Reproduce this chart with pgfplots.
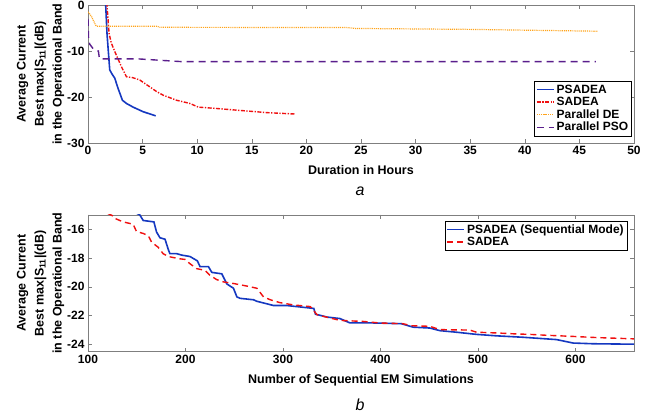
\documentclass[border=0pt]{standalone}
\usepackage{pgfplots}
\pgfplotsset{compat=1.18}
\usepackage{fontspec}
\setmainfont{Liberation Sans}
\definecolor{psblue}{HTML}{1538C0}
\definecolor{sared}{HTML}{F01010}
\definecolor{deorange}{HTML}{FFA41C}
\definecolor{psopurple}{HTML}{5A1E8C}
\definecolor{axgrey}{HTML}{7F7F7F}

\pgfplotsset{
  matlab/.style={
    scale only axis,
    width=546pt,
    axis line style={axgrey},
    tick style={axgrey, line width=0.6pt},
    tick align=inside,
    major tick length=4pt,
    /pgf/number format/assume math mode=true,
    tick label style={font=\fontsize{12}{14}\selectfont\bfseries, black},
    label style={font=\fontsize{12.5}{18}\selectfont\bfseries},
    ylabel style={align=center, yshift=-4pt},
    xlabel style={yshift=-4pt},
    legend style={font=\fontsize{12}{15}\selectfont\bfseries,
      inner sep=1.5pt, row sep=-1.5pt},
    legend cell align=left,
  },
}

\begin{document}
\begin{tikzpicture}[x=1pt,y=1pt]
\path[use as bounding box] (0,0) rectangle (657,-416);

\begin{axis}[matlab,
  at={(88pt,-5pt)}, anchor=north west,
  height=138pt,
  xmin=0, xmax=50, ymin=-30, ymax=0,
  xtick={0,5,...,50}, ytick={-30,-20,-10,0},
  xlabel={Duration in Hours},
  ylabel={Average Current\\Best max|S\textsubscript{11}|(dB)\\in the Operational Band},
  legend style={at={(0.996,0.05)}, anchor=south east},
]
\addplot[draw=psblue, line width=1.6pt] coordinates {
 (1.60,0.5) (1.62,0) (1.74,-6.2) (1.99,-14.1) (2.2,-15.0) (2.45,-15.9) (2.75,-18.1)
 (3.15,-20.7) (3.52,-21.4) (4.13,-22.2) (5.05,-23.2) (6.2,-24.1)
};
\addplot[draw=sared, line width=1.4pt, dash pattern=on 4pt off 1.5pt on 1.3pt off 1.5pt] coordinates {
 (1.72,0.5) (1.74,0) (1.93,-6.2) (2.14,-8.3) (2.45,-10.1) (3.06,-13.4) (3.52,-15.6)
 (4.1,-15.8) (4.74,-16.3) (5.66,-17.8) (6.27,-18.8) (6.88,-19.6) (8.1,-20.7)
 (9.33,-21.4) (10.1,-22.2) (11.8,-22.5) (13.3,-22.8) (16.4,-23.4) (18.96,-23.7)
};
\addplot[draw=deorange, line width=1.2pt, dash pattern=on 1pt off 0.9pt] coordinates {
 (0,-1.5) (0.3,-2.4) (0.7,-4.4) (0.8,-4.6) (6.3,-4.6) (6.6,-4.85) (23.7,-4.9)
 (24.5,-5.1) (35,-5.3) (46.7,-5.7)
};
\addplot[draw=psopurple, line width=1.4pt, dash pattern=on 7pt off 5pt] coordinates {
 (0,-3) (0.05,-7) (0.15,-8.5) (0.5,-9.6) (0.95,-10) (1.05,-11.7) (4.5,-11.7)
 (8.5,-12.3) (46.5,-12.3)
};
\legend{PSADEA, SADEA, Parallel DE, Parallel PSO}
\end{axis}

\node[font=\fontsize{16}{18}\selectfont\itshape] at (360,-191) {a};

\begin{axis}[matlab,
  at={(88pt,-214.7pt)}, anchor=north west,
  height=137pt,
  xmin=100, xmax=660, ymin=-24.5, ymax=-15,
  xtick={100,200,...,600}, ytick={-24,-22,-20,-18,-16},
  xlabel={Number of Sequential EM Simulations},
  ylabel={Average Current\\Best max|S\textsubscript{11}|(dB)\\in the Operational Band},
  legend style={at={(0.988,0.956)}, anchor=north east},
]
\addplot[draw=psblue, line width=1.6pt] coordinates {
 (150,-14.9) (153,-15.0) (156.6,-15.4) (167.6,-15.5) (170.3,-16.2) (173.8,-16.6)
 (179,-16.7) (182.3,-17.4) (184,-17.7) (190.9,-17.7) (196,-17.8) (204.6,-17.9)
 (212.2,-18.2) (214.9,-18.6) (223.5,-18.6) (227,-19.0) (237.2,-19.1) (242.4,-19.8)
 (249.2,-20.1) (252.7,-20.7) (256,-20.8) (269.8,-20.9) (273,-21.0) (290.4,-21.3)
 (304,-21.3) (318,-21.4) (331.6,-21.5) (333.3,-21.9) (345.3,-22.1) (358.3,-22.2)
 (368.5,-22.5) (389,-22.5) (421.5,-22.56) (433.5,-22.8) (450.6,-22.86) (460.9,-23.04)
 (478,-23.15) (498.5,-23.3) (519,-23.4) (546.3,-23.5) (580.5,-23.66) (597.6,-23.9)
 (618,-23.95) (660,-23.98)
};
\addplot[draw=sared, line width=1.4pt, dash pattern=on 6pt off 4pt] coordinates {
 (120,-14.9) (125.7,-15.09) (127.4,-15.25) (136,-15.5) (146.3,-15.66) (149.7,-16.16)
 (156.6,-16.3) (161.8,-16.45) (165.2,-16.9) (172,-17.26) (177,-17.7) (182.3,-17.9)
 (194.3,-18.06) (199.5,-18.1) (204.6,-18.4) (211.5,-18.74) (220,-18.86) (225,-19.2)
 (232,-19.5) (239,-19.66) (249.2,-19.77) (263,-19.95) (273.2,-20.1) (280,-20.7)
 (287,-20.9) (297,-21.1) (311,-21.26) (328,-21.37) (335,-21.94) (348.7,-22.17)
 (358.3,-22.33) (382,-22.4) (399.3,-22.51) (423,-22.56) (431.8,-22.7) (450.6,-22.74)
 (460.9,-22.97) (491.6,-23.0) (498.5,-23.15) (519,-23.2) (539.5,-23.27) (553,-23.3)
 (570,-23.36) (594,-23.43) (621.5,-23.52) (660,-23.61)
};
\legend{PSADEA (Sequential Mode), SADEA}
\end{axis}

\node[font=\fontsize{16}{18}\selectfont\itshape] at (360,-405) {b};
\end{tikzpicture}
\end{document}
